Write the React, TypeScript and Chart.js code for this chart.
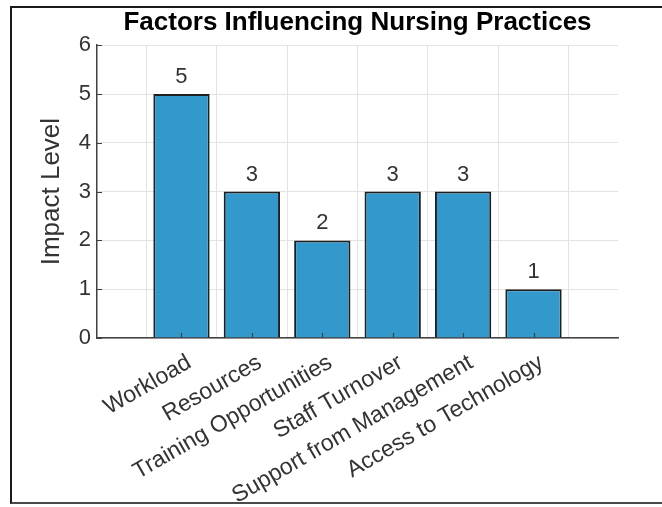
import React, { useEffect, useRef } from "react";
import { Chart, registerables } from "chart.js";

Chart.register(...registerables);

const categories = [
  "Workload",
  "Resources",
  "Training Opportunities",
  "Staff Turnover",
  "Support from Management",
  "Access to Technology",
];
const impactValues = [5, 3, 2, 3, 3, 1];
const categoryPositions = [1, 2, 3, 4, 5, 6];
const xLimits = [-0.2, 7.2];
const yLimits = [0, 6];

const FONT = "'Liberation Sans', Arial, Helvetica, sans-serif";
const TEXT_COLOR = "#333333";
const AXIS_COLOR = "#404040";

const inwardTicks = {
  id: "inwardTicks",
  afterDatasetsDraw(chart: any) {
    const { ctx, chartArea, scales } = chart;
    ctx.save();
    ctx.strokeStyle = AXIS_COLOR;
    ctx.lineWidth = 1.2;
    ctx.beginPath();
    scales.x.ticks.forEach((t: any) => {
      const px = Math.round(scales.x.getPixelForValue(t.value)) + 0.5;
      ctx.moveTo(px, chartArea.bottom);
      ctx.lineTo(px, chartArea.bottom - 5);
    });
    scales.y.ticks.forEach((t: any) => {
      const py = Math.round(scales.y.getPixelForValue(t.value)) + 0.5;
      ctx.moveTo(chartArea.left, py);
      ctx.lineTo(chartArea.left + 5, py);
    });
    ctx.stroke();
    ctx.restore();
  },
};

const valueLabels = {
  id: "valueLabels",
  afterDatasetsDraw(chart: any) {
    const { ctx } = chart;
    const meta = chart.getDatasetMeta(0);
    ctx.save();
    ctx.font = `22px ${FONT}`;
    ctx.fillStyle = TEXT_COLOR;
    ctx.textAlign = "center";
    ctx.textBaseline = "bottom";
    meta.data.forEach((bar: any, i: number) => {
      ctx.fillText(String(impactValues[i]), bar.x, bar.y - 6);
    });
    ctx.restore();
  },
};

export default function App() {
  const canvasRef = useRef<HTMLCanvasElement | null>(null);

  useEffect(() => {
    const canvas = canvasRef.current;
    if (!canvas) return;
    const chart = new Chart(canvas, {
      type: "bar",
      data: {
        datasets: [
          {
            label: "Impact Level",
            data: categoryPositions.map((x, i) => ({ x, y: impactValues[i] })),
            backgroundColor: "#3399CC",
            borderColor: "#1f1f1f",
            borderWidth: 2,
            barPercentage: 0.8,
            categoryPercentage: 1,
          },
        ],
      },
      options: {
        animation: false,
        responsive: false,
        maintainAspectRatio: false,
        layout: { padding: { left: 0, right: 44, top: 0, bottom: 0 } },
        plugins: {
          legend: { display: false },
          tooltip: { enabled: false },
          title: {
            display: true,
            text: "Factors Influencing Nursing Practices",
            fullSize: false,
            color: "#000000",
            font: { family: FONT, size: 26, weight: "bold" },
            padding: { top: 7, bottom: 7 },
          },
        },
        scales: {
          x: {
            type: "linear",
            min: xLimits[0],
            max: xLimits[1],
            offset: false,
            afterBuildTicks(scale: any) {
              scale.ticks = categoryPositions.map((v) => ({ value: v }));
            },
            afterFit(scale: any) {
              scale.height = 169;
            },
            ticks: {
              autoSkip: false,
              includeBounds: false,
              stepSize: 1,
              minRotation: 30,
              maxRotation: 30,
              padding: 11,
              labelOffset: 8,
              color: TEXT_COLOR,
              font: { family: FONT, size: 23 },
              callback: (v: any) => categories[Number(v) - 1] ?? "",
            },
            grid: {
              display: true,
              color: "#e3e3e3",
              lineWidth: 1,
              drawTicks: false,
            },
            border: { display: true, color: AXIS_COLOR, width: 1.5 },
          },
          y: {
            min: yLimits[0],
            max: yLimits[1],
            afterFit(scale: any) {
              scale.width = 97;
            },
            ticks: {
              stepSize: 1,
              padding: 6,
              color: TEXT_COLOR,
              font: { family: FONT, size: 22 },
            },
            grid: {
              display: true,
              color: "#e3e3e3",
              lineWidth: 1,
              drawTicks: false,
            },
            border: { display: true, color: AXIS_COLOR, width: 1.5 },
            title: {
              display: true,
              text: "Impact Level",
              color: TEXT_COLOR,
              font: { family: FONT, size: 26 },
              padding: { top: 36, bottom: 0 },
            },
          },
        },
      },
      plugins: [inwardTicks, valueLabels],
    });
    return () => chart.destroy();
  }, []);

  return (
    <div
      style={{
        position: "fixed",
        left: 0,
        top: 0,
        width: 662,
        height: 507,
        background: "#ffffff",
        overflow: "hidden",
      }}
    >
      <canvas ref={canvasRef} width={662} height={507} style={{ display: "block" }} />
      <div
        style={{
          position: "absolute",
          left: 10,
          top: 6,
          width: 652,
          height: 498,
          borderLeft: "2px solid #1a1a1a",
          borderTop: "2px solid #1a1a1a",
          borderBottom: "2px solid #4a4a4a",
          boxSizing: "border-box",
          pointerEvents: "none",
        }}
      />
    </div>
  );
}
